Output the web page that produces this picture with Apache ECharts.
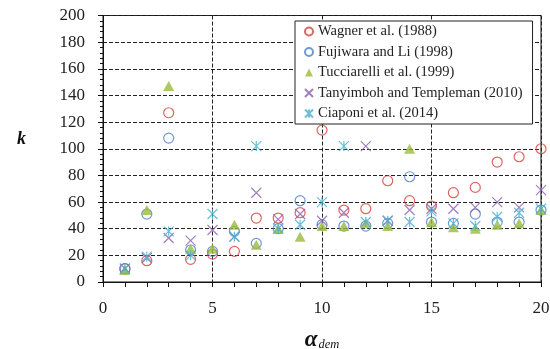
<!DOCTYPE html>
<html>
<head>
<meta charset="utf-8">
<script src="https://cdn.jsdelivr.net/npm/echarts@6/dist/echarts.min.js"></script>
<style>
  html, body { margin: 0; padding: 0; background: #fff; }
  #chart { width: 550px; height: 349px; }
</style>
</head>
<body>
<div id="chart"></div>
<script>
// alpha_dem values (x)
var alphaDem = [1, 2, 3, 4, 5, 6, 7, 8, 9, 10, 11, 12, 13, 14, 15, 16, 17, 18, 19, 20];

// k values for each method
var wagner      = [10, 16, 127, 17, 21, 23, 48, 48, 52, 114, 54, 55, 76, 61, 57, 67, 71, 90, 94, 100];
var fujiwara    = [10, 51, 108, 24, 23, 38, 29, 40, 61, 43, 42, 42, 44, 79, 45, 44, 51, 45, 45, 54];
var tucciarelli = [9, 54, 147, 25, 25, 43, 28, 40, 34, 42, 42, 44, 42, 100, 45, 41, 40, 43, 44, 54];
var tanyimboh   = [10, 18, 33, 31, 39, 34, 67, 47, 51, 46, 52, 102, 46, 54, 55, 55, 56, 60, 56, 69];
var ciaponi     = [10, 19, 38, 20, 51, 34, 102, 40, 43, 60, 102, 45, 46, 45, 53, 44, 42, 49, 52, 55];

var seriesNames = [
  'Wagner et al. (1988)',
  'Fujiwara and Li (1998)',
  'Tucciarelli et al. (1999)',
  'Tanyimboh and Templeman (2010)',
  'Ciaponi et al. (2014)'
];

var FONT = '"Liberation Serif", "DejaVu Serif", serif';

function pairs(ys) {
  return alphaDem.map(function (x, i) { return [x, ys[i]]; });
}

var xMark = 'path://M0,0L10,10M10,0L0,10';
var starMark = 'path://M0,0L10,10M10,0L0,10M5,0L5,10';

function hollow(name, ys, color, symbol, size) {
  return {
    name: name,
    type: 'scatter',
    data: pairs(ys),
    symbol: symbol,
    symbolSize: size,
    itemStyle: { color: 'rgba(0,0,0,0)', borderColor: color, borderWidth: 1.2 }
  };
}

var dashed = { show: true, lineStyle: { color: '#222', width: 1, type: [4, 2] } };

var chart = echarts.init(document.getElementById('chart'), null, { renderer: 'canvas' });
chart.setOption({
  animation: false,
  backgroundColor: '#fff',
  grid: {
    left: 103, right: 9, top: 15.5, bottom: 67,
    outerBoundsMode: 'none',
    containLabel: false,
    show: true, borderColor: '#111', borderWidth: 1, backgroundColor: 'rgba(0,0,0,0)'
  },
  legend: {
    orient: 'vertical',
    left: 295, top: 21,
    padding: [3, 10, 3, 9],
    itemGap: 5.5,
    itemWidth: 8, itemHeight: 8,
    backgroundColor: '#fff',
    borderColor: '#222', borderWidth: 1,
    textStyle: { fontFamily: FONT, fontSize: 14.5, color: '#222', lineHeight: 14 },
    data: seriesNames
  },
  xAxis: {
    type: 'value', min: 0, max: 20, interval: 5,
    axisLine: { show: true, lineStyle: { color: '#111', width: 1 } },
    axisTick: { show: true, length: 5, lineStyle: { color: '#111' } },
    minorTick: { show: true, splitNumber: 5, length: 5, lineStyle: { color: '#111' } },
    axisLabel: { fontFamily: FONT, fontSize: 17, color: '#222', margin: 18 },
    splitLine: dashed,
    name: '{a|α}{s|dem}',
    nameLocation: 'middle',
    nameGap: 47,
    nameTextStyle: {
      rich: {
        a: { fontFamily: FONT, fontSize: 23, fontWeight: 'bold', fontStyle: 'italic', color: '#111', lineHeight: 22 },
        s: { fontFamily: FONT, fontSize: 12.5, fontStyle: 'italic', color: '#111', verticalAlign: 'bottom', padding: [0, 0, 0, 1] }
      }
    }
  },
  yAxis: {
    type: 'value', min: 0, max: 200, interval: 20,
    axisLine: { show: true, lineStyle: { color: '#111', width: 1 } },
    axisTick: { show: true, length: 5, lineStyle: { color: '#111' } },
    minorTick: { show: true, splitNumber: 5, length: 3, lineStyle: { color: '#111' } },
    axisLabel: { fontFamily: FONT, fontSize: 17, color: '#222', margin: 18 },
    splitLine: dashed,
    name: 'k',
    nameLocation: 'middle',
    nameRotate: 0,
    nameGap: 77,
    nameTextStyle: {
      fontFamily: FONT, fontSize: 18, fontWeight: 'bold', fontStyle: 'italic', color: '#111',
      verticalAlign: 'bottom'
    }
  },
  series: [
    hollow(seriesNames[0], wagner, '#d6403a', 'circle', 10),
    hollow(seriesNames[1], fujiwara, '#4a7fcc', 'circle', 10),
    {
      name: seriesNames[2],
      type: 'scatter',
      data: pairs(tucciarelli),
      symbol: 'triangle',
      symbolSize: [11, 10],
      itemStyle: { color: '#9bbb3b' }
    },
    hollow(seriesNames[3], tanyimboh, '#8a5fb0', xMark, 10),
    hollow(seriesNames[4], ciaponi, '#46b0cf', starMark, 10)
  ]
});
</script>
</body>
</html>
